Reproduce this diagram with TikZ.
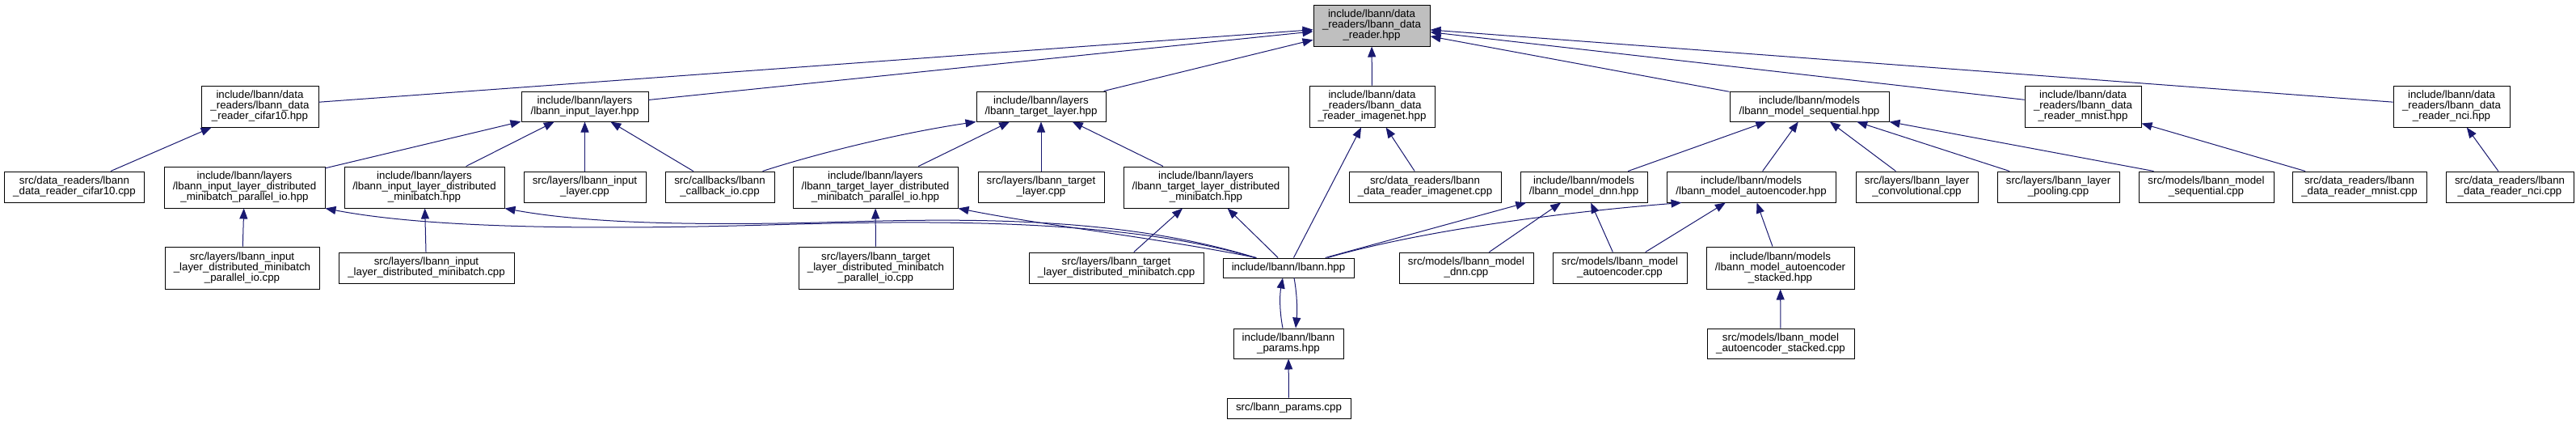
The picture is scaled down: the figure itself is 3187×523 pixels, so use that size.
\documentclass[tikz,border=0pt]{standalone}
\usepackage{fontspec}
\setmainfont{Liberation Sans}
\usetikzlibrary{arrows.meta}
\definecolor{navy}{HTML}{191970}
\definecolor{rootgray}{HTML}{BFBFBF}
\tikzset{
  box/.style={draw=black, line width=1pt, fill=white, align=center, inner sep=0pt,
    font=\fontsize{13.3}{13}\selectfont},
  edge/.style={draw=navy, line width=1pt, -{Triangle[length=13pt,width=10pt]}},
}
\begin{document}
\begin{tikzpicture}[x=1pt,y=-1pt]
\fill[white] (0,0) rectangle (3187,523);
\useasboundingbox (0,0) rectangle (3187,523);
% level 0
\node[box, fill=rootgray, minimum width=144pt, minimum height=51pt] (root) at (1697,31.5) {include/lbann/data\\\_readers/lbann\_data\\\_reader.hpp};
% level 1
\node[box, minimum width=145pt, minimum height=51pt] (cifh) at (321.5,131.5) {include/lbann/data\\\_readers/lbann\_data\\\_reader\_cifar10.hpp};
\node[box, minimum width=157pt, minimum height=37pt] (inh) at (723.5,131.5) {include/lbann/layers\\/lbann\_input\_layer.hpp};
\node[box, minimum width=160pt, minimum height=37pt] (tgh) at (1288,131.5) {include/lbann/layers\\/lbann\_target\_layer.hpp};
\node[box, minimum width=155pt, minimum height=51pt] (imh) at (1697.5,131.5) {include/lbann/data\\\_readers/lbann\_data\\\_reader\_imagenet.hpp};
\node[box, minimum width=197pt, minimum height=37pt] (seqh) at (2238.5,131.5) {include/lbann/models\\/lbann\_model\_sequential.hpp};
\node[box, minimum width=144pt, minimum height=51pt] (mnh) at (2577,131.5) {include/lbann/data\\\_readers/lbann\_data\\\_reader\_mnist.hpp};
\node[box, minimum width=144pt, minimum height=51pt] (ncih) at (3033,131.5) {include/lbann/data\\\_readers/lbann\_data\\\_reader\_nci.hpp};
% level 2
\node[box, minimum width=173pt, minimum height=38pt] (cifc) at (92,231) {src/data\_readers/lbann\\\_data\_reader\_cifar10.cpp};
\node[box, minimum width=199pt, minimum height=51pt] (inpioh) at (302.5,231.5) {include/lbann/layers\\/lbann\_input\_layer\_distributed\\\_minibatch\_parallel\_io.hpp};
\node[box, minimum width=198pt, minimum height=51pt] (inmbh) at (525,231.5) {include/lbann/layers\\/lbann\_input\_layer\_distributed\\\_minibatch.hpp};
\node[box, minimum width=151pt, minimum height=38pt] (inc) at (723.5,231) {src/layers/lbann\_input\\\_layer.cpp};
\node[box, minimum width=135pt, minimum height=38pt] (cbc) at (890.5,231) {src/callbacks/lbann\\\_callback\_io.cpp};
\node[box, minimum width=204pt, minimum height=51pt] (tgpioh) at (1083,231.5) {include/lbann/layers\\/lbann\_target\_layer\_distributed\\\_minibatch\_parallel\_io.hpp};
\node[box, minimum width=156pt, minimum height=38pt] (tgc) at (1288,231) {src/layers/lbann\_target\\\_layer.cpp};
\node[box, minimum width=204pt, minimum height=51pt] (tgmbh) at (1492,231.5) {include/lbann/layers\\/lbann\_target\_layer\_distributed\\\_minibatch.hpp};
\node[box, minimum width=188pt, minimum height=38pt] (imc) at (1763,231) {src/data\_readers/lbann\\\_data\_reader\_imagenet.cpp};
\node[box, minimum width=157pt, minimum height=38pt] (dnnh) at (1959.5,231) {include/lbann/models\\/lbann\_model\_dnn.hpp};
\node[box, minimum width=209pt, minimum height=38pt] (aeh) at (2166.5,231) {include/lbann/models\\/lbann\_model\_autoencoder.hpp};
\node[box, minimum width=151pt, minimum height=38pt] (convc) at (2371.5,231) {src/layers/lbann\_layer\\\_convolutional.cpp};
\node[box, minimum width=151pt, minimum height=38pt] (poolc) at (2546.5,231) {src/layers/lbann\_layer\\\_pooling.cpp};
\node[box, minimum width=167pt, minimum height=38pt] (seqc) at (2729.5,231) {src/models/lbann\_model\\\_sequential.cpp};
\node[box, minimum width=166pt, minimum height=38pt] (mnc) at (2919,231) {src/data\_readers/lbann\\\_data\_reader\_mnist.cpp};
\node[box, minimum width=158pt, minimum height=38pt] (ncic) at (3105,231) {src/data\_readers/lbann\\\_data\_reader\_nci.cpp};
% level 3
\node[box, minimum width=191pt, minimum height=52pt] (inpioc) at (299.5,331) {src/layers/lbann\_input\\\_layer\_distributed\_minibatch\\\_parallel\_io.cpp};
\node[box, minimum width=217pt, minimum height=38pt] (inmbc) at (527.5,331) {src/layers/lbann\_input\\\_layer\_distributed\_minibatch.cpp};
\node[box, minimum width=191pt, minimum height=52pt] (tgpioc) at (1083.5,331) {src/layers/lbann\_target\\\_layer\_distributed\_minibatch\\\_parallel\_io.cpp};
\node[box, minimum width=216pt, minimum height=38pt] (tgmbc) at (1381,331) {src/layers/lbann\_target\\\_layer\_distributed\_minibatch.cpp};
\node[box, minimum width=162pt, minimum height=24pt] (lbh) at (1594,331) {include/lbann/lbann.hpp};
\node[box, minimum width=166pt, minimum height=38pt] (dnnc) at (1814,331) {src/models/lbann\_model\\\_dnn.cpp};
\node[box, minimum width=166pt, minimum height=38pt] (aec) at (2004,331) {src/models/lbann\_model\\\_autoencoder.cpp};
\node[box, minimum width=183pt, minimum height=52pt] (aesh) at (2202.5,331) {include/lbann/models\\/lbann\_model\_autoencoder\\\_stacked.hpp};
% level 4
\node[box, minimum width=136pt, minimum height=37pt] (parh) at (1594,424.5) {include/lbann/lbann\\\_params.hpp};
\node[box, minimum width=182pt, minimum height=37pt] (aesc) at (2203,424.5) {src/models/lbann\_model\\\_autoencoder\_stacked.cpp};
% level 5
\node[box, minimum width=153pt, minimum height=25pt] (parc) at (1594.5,504.5) {src/lbann\_params.cpp};

% edges to root
\draw[edge] (cifh) -- (root);
\draw[edge] (inh) -- (root);
\draw[edge] (tgh) -- (root);
\draw[edge] (imh) -- (root);
\draw[edge] (seqh) -- (root);
\draw[edge] (mnh) -- (root);
\draw[edge] (ncih) -- (root);
% level 2 -> level 1
\draw[edge] (cifc) -- (cifh);
\draw[edge] (inpioh) -- (inh);
\draw[edge] (inmbh) -- (inh);
\draw[edge] (inc) -- (inh);
\draw[edge] (cbc) -- (inh);
\draw[edge] ([xshift=-15pt]cbc.north east) .. controls (1010,190) and (1110,165) .. (tgh.south west);
\draw[edge] (tgpioh) -- (tgh);
\draw[edge] (tgc) -- (tgh);
\draw[edge] (tgmbh) -- (tgh);
\draw[edge] (imc) -- (imh);
\draw[edge] (lbh) -- (imh);
\draw[edge] (dnnh) -- (seqh);
\draw[edge] (aeh) -- (seqh);
\draw[edge] (convc) -- (seqh);
\draw[edge] (poolc) -- (seqh);
\draw[edge] ([xshift=19pt]seqc.north west) -- (seqh.south east);
\draw[edge] (mnc) -- (mnh);
\draw[edge] (ncic) -- (ncih);
% level 3 -> level 2
\draw[edge] (inpioc) -- (inpioh);
\draw[edge] (inmbc) -- (inmbh);
\draw[edge] (tgpioc) -- (tgpioh);
\draw[edge] (tgmbc) -- (tgmbh);
\draw[edge] (lbh) -- (tgmbh);
\draw[edge] ([xshift=42pt]lbh.north west) .. controls (1420,292) and (1300,280) .. (tgpioh.south east);
\draw[edge] ([xshift=40pt]lbh.north west) .. controls (1390,270) and (1150,272) .. (950,278) .. controls (700,285) and (520,280) .. (inpioh.south east);
\draw[edge] ([xshift=41pt]lbh.north west) .. controls (1390,268) and (1200,270) .. (1050,274) .. controls (850,280) and (720,275) .. (inmbh.south east);
\draw[edge] (lbh) -- (dnnh);
\draw[edge] ([xshift=130pt]lbh.north west) .. controls (1740,290) and (1900,265) .. ([xshift=19pt]aeh.south west);
\draw[edge] (dnnc) -- (dnnh);
\draw[edge] (aec) -- (dnnh);
\draw[edge] (aec) -- (aeh);
\draw[edge] (aesh) -- (aeh);
% lower levels
\draw[edge] ([xshift=-7pt]parh.north) .. controls (1583,385) and (1583,365) .. ([xshift=-7pt]lbh.south);
\draw[edge] ([xshift=7pt]lbh.south) .. controls (1605,365) and (1605,385) .. ([xshift=9pt]parh.north);
\draw[edge] (parc) -- (parh);
\draw[edge] (aesc) -- (aesh);
\end{tikzpicture}
\end{document}
